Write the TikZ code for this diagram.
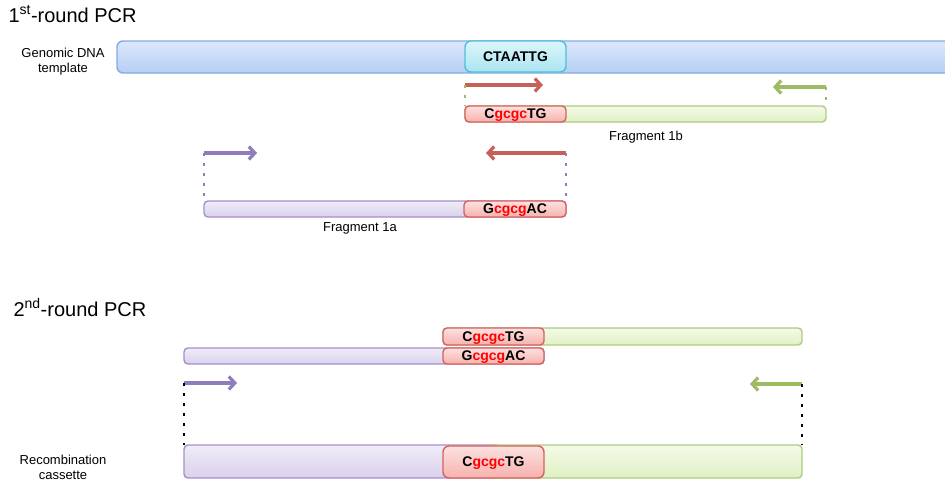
\documentclass[tikz,border=0pt]{standalone}
\usepackage{fontspec}
\setmainfont{Liberation Sans}
\usetikzlibrary{arrows.meta}

\definecolor{genomeline}{HTML}{86AAE0}
\definecolor{genometop}{HTML}{DCE9FC}
\definecolor{genomebot}{HTML}{B4CEF3}
\definecolor{siteline}{HTML}{4FC0D8}
\definecolor{sitetop}{HTML}{DDF6FB}
\definecolor{sitebot}{HTML}{A9E4F1}
\definecolor{insline}{HTML}{D6625C}
\definecolor{instop}{HTML}{FCE1E0}
\definecolor{insbot}{HTML}{F6B2AE}
\definecolor{fragaline}{HTML}{A690C8}
\definecolor{fragatop}{HTML}{F0ECF8}
\definecolor{fragabot}{HTML}{DAD1EC}
\definecolor{fragbline}{HTML}{AECB80}
\definecolor{fragbtop}{HTML}{F4FAE8}
\definecolor{fragbbot}{HTML}{E0F1C4}
\definecolor{redprimer}{HTML}{C8605A}
\definecolor{greenprimer}{HTML}{9DBB64}
\definecolor{purpleprimer}{HTML}{8E7CBC}

\newcommand{\fwdsite}{\textbf{C\textcolor{red}{gcgc}TG}}
\newcommand{\revsite}{\textbf{G\textcolor{red}{cgcg}AC}}

\tikzset{
  bar/.style={draw, line width=1.4pt, rounded corners=4pt, inner sep=0pt, outer sep=0pt},
  genome/.style={bar, draw=genomeline, top color=genometop, bottom color=genomebot, rounded corners=6pt},
  site/.style={bar, draw=siteline, top color=sitetop, bottom color=sitebot, rounded corners=6pt, font=\fontsize{14}{16}\selectfont\bfseries},
  insert/.style={bar, draw=insline, top color=instop, bottom color=insbot, font=\fontsize{14}{16}\selectfont, text height=10pt, text depth=1pt},
  fraga/.style={bar, draw=fragaline, top color=fragatop, bottom color=fragabot},
  fragb/.style={bar, draw=fragbline, top color=fragbtop, bottom color=fragbbot},
  primer/.style={line width=3.2pt, -{Straight Barb[length=6pt,width=13pt]}},
  dots/.style={line width=2.5pt, dash pattern=on 2.5pt off 7.5pt},
  label/.style={font=\fontsize{13}{15}\selectfont, align=center},
  title/.style={font=\fontsize{20}{24}\selectfont, anchor=base west}
}

\begin{document}
\begin{tikzpicture}[x=1pt, y=-1pt]
  \useasboundingbox (0,0) rectangle (945,482);

  % First round
  \node[title] (round1) at (5,22) {1\textsuperscript{st}-round PCR};
  \node[label] (genomelbl) at (63,62) {Genomic DNA\\template};
  \node[genome, minimum width=843pt, minimum height=32pt] (genome) at (538.5,57) {};
  \node[site, minimum width=101pt, minimum height=31pt] (site) at (515.5,56.5) {CTAATTG};

  % Fragment 1b
  \node[fragb, minimum width=361pt, minimum height=16pt] (frag1b) at (645.5,114) {};
  \node[insert, minimum width=101pt, minimum height=16pt] (ins1b) at (515.5,114) {\fwdsite};
  \node[label, anchor=base] (lbl1b) at (646,140) {Fragment 1b};

  % Fragment 1a
  \node[fraga, minimum width=362pt, minimum height=16pt] (frag1a) at (385,209) {};
  \node[insert, minimum width=102pt, minimum height=16pt] (ins1a) at (515,209) {\revsite};
  \node[label, anchor=base] (lbl1a) at (360,231) {Fragment 1a};

  % Primers, first round
  \coordinate (fwd1b) at (465,85);   \coordinate (fwd1bend) at (543,85);
  \coordinate (rev1b) at (826,87);   \coordinate (rev1bend) at (773,87);
  \coordinate (fwd1a) at (204,153);  \coordinate (fwd1aend) at (257,153);
  \coordinate (rev1a) at (566,153);  \coordinate (rev1aend) at (486,153);
  \draw[primer, redprimer] (fwd1b) -- (fwd1bend);
  \draw[primer, greenprimer] (rev1b) -- (rev1bend);
  \draw[primer, purpleprimer] (fwd1a) -- (fwd1aend);
  \draw[primer, redprimer] (rev1a) -- (rev1aend);
  \draw[dots, greenprimer] (fwd1b) -- (frag1b.north west);
  \draw[dots, greenprimer] (rev1b) -- (frag1b.north east);
  \draw[dots, purpleprimer] (fwd1a) -- (frag1a.north west);
  \draw[dots, purpleprimer] (rev1a) -- (frag1a.north east);

  % Second round
  \node[title] (round2) at (10,316) {2\textsuperscript{nd}-round PCR};
  \node[fragb, minimum width=359pt, minimum height=17pt] (top2) at (622.5,336.5) {};
  \node[insert, minimum width=101pt, minimum height=17pt] (topins2) at (493.5,336.5) {\fwdsite};
  \node[fraga, minimum width=360pt, minimum height=16pt] (bot2) at (364,356) {};
  \node[insert, minimum width=101pt, minimum height=16pt] (botins2) at (493.5,356) {\revsite};

  \coordinate (fwd2) at (184,383);  \coordinate (fwd2end) at (237,383);
  \coordinate (rev2) at (802,384);  \coordinate (rev2end) at (750,384);
  \draw[primer, purpleprimer] (fwd2) -- (fwd2end);
  \draw[primer, greenprimer] (rev2) -- (rev2end);

  % Recombination cassette
  \node[label] (caslbl) at (63,467) {Recombination\\cassette};
  \node[fraga, minimum width=316pt, minimum height=33pt] (casa) at (342,461.5) {};
  \node[fragb, minimum width=312pt, minimum height=33pt] (casb) at (646,461.5) {};
  \node[insert, minimum width=101pt, minimum height=32pt, rounded corners=6pt] (casins) at (493.5,462) {\fwdsite};
  \draw[dots, black] (fwd2) -- (casa.north west);
  \draw[dots, black] (rev2) -- (casb.north east);
\end{tikzpicture}
\end{document}
